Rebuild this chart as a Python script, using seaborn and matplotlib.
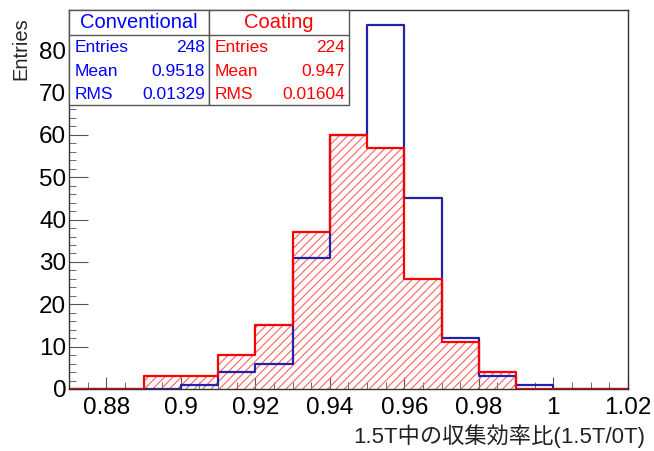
import numpy as np
import pandas as pd
import matplotlib
matplotlib.use('Agg')
import matplotlib.pyplot as plt
import seaborn as sns
from matplotlib.ticker import MultipleLocator

sns.set_style("ticks")
plt.rcParams['font.family'] = ['Liberation Sans', 'Noto Sans CJK JP', 'DejaVu Sans']
plt.rcParams['hatch.linewidth'] = 0.8

# Bin edges (0.87 .. 1.02, width 0.01) and counts
bin_edges = [round(0.87 + 0.01 * i, 3) for i in range(16)]
conventional_counts = [0, 0, 0, 1, 4, 6, 31, 60, 86, 45, 12, 3, 1, 0, 0]
coating_counts = [0, 0, 3, 3, 8, 15, 37, 60, 57, 26, 11, 4, 0, 0, 0]

stats_conv = [('Entries', '248'), ('Mean', '0.9518'), ('RMS', '0.01329')]
stats_coat = [('Entries', '224'), ('Mean', '0.947'), ('RMS', '0.01604')]

centers = [(a + b) / 2 for a, b in zip(bin_edges[:-1], bin_edges[1:])]
df = pd.DataFrame({
    'x': centers + centers,
    'w': conventional_counts + coating_counts,
    'sample': ['Conventional'] * len(centers) + ['Coating'] * len(centers),
})

blue_line = '#2222aa'
fig = plt.figure(figsize=(6.54, 4.51), dpi=100)
ax = fig.add_axes([0.1055, 0.1375, 0.8545, 0.8405])

# Conventional: outline only
sns.histplot(data=df[df['sample'] == 'Conventional'], x='x', weights='w', bins=bin_edges,
             element='step', fill=False, color=blue_line, linewidth=1.6, ax=ax)

# Coating: red hatch + outline
sns.histplot(data=df[df['sample'] == 'Coating'], x='x', weights='w', bins=bin_edges,
             element='step', fill=True, color='#ff6060', linewidth=0, ax=ax)
hatch_poly = ax.collections[-1]
hatch_poly.set_facecolor('none')
hatch_poly.set_edgecolor('#ff6060')
hatch_poly.set_linewidth(0)
hatch_poly.set_hatch('////')
sns.histplot(data=df[df['sample'] == 'Coating'], x='x', weights='w', bins=bin_edges,
             element='step', fill=False, color='red', linewidth=1.6, ax=ax)

ax.xaxis.set_major_locator(MultipleLocator(0.02))
ax.xaxis.set_minor_locator(MultipleLocator(0.005))
ax.yaxis.set_major_locator(MultipleLocator(10))
ax.yaxis.set_minor_locator(MultipleLocator(2))
ax.set_xticks(ax.get_xticks())
ax.set_xticklabels([f'{v:g}' for v in ax.get_xticks()])
ax.set_xlim(0.87, 1.02)
ax.set_ylim(0, 89.5)
ax.tick_params(axis='both', which='both', direction='in', colors='#555555',
               labelcolor='black', labelsize=17.5, top=False, right=False)
ax.tick_params(axis='x', which='major', length=9, pad=6)
ax.tick_params(axis='y', which='major', length=14, pad=2)
ax.tick_params(axis='both', which='minor', length=5)
for s in ax.spines.values():
    s.set_color('#333333')
    s.set_linewidth(1.0)

ax.set_xlabel('')
ax.set_ylabel('')
fig.text(0.986, 0.018, '1.5T中の収集効率比(1.5T/0T)', ha='right', va='baseline',
         fontsize=16, color='#222222')
fig.text(0.017, 0.962, 'Entries', ha='left', va='top', rotation=90, fontsize=14.5)

# Stat boxes (ROOT style)
def stat_box(x0, x1, title, rows, color):
    y_top, y_head, y_bot = 0.978, 0.922, 0.767
    box = plt.Rectangle((x0, y_bot), x1 - x0, y_top - y_bot, transform=fig.transFigure,
                        facecolor='white', edgecolor='#555555', linewidth=1.0, zorder=5)
    fig.add_artist(box)
    fig.add_artist(plt.Line2D([x0, x1], [y_head, y_head], transform=fig.transFigure,
                              color='#555555', linewidth=1.0, zorder=6))
    fig.text((x0 + x1) / 2, (y_top + y_head) / 2, title, ha='center', va='center',
             fontsize=14.5, color=color, zorder=7)
    for i, (k, v) in enumerate(rows):
        y = y_head - 0.028 - i * 0.052
        fig.text(x0 + 0.008, y, k, ha='left', va='center', fontsize=12.5, color=color, zorder=7)
        fig.text(x1 - 0.006, y, v, ha='right', va='center', fontsize=12.5, color=color, zorder=7)

stat_box(0.1055, 0.3195, 'Conventional', stats_conv, 'blue')
stat_box(0.3195, 0.5335, 'Coating', stats_coat, 'red')

fig.savefig('out.png', dpi=100)
